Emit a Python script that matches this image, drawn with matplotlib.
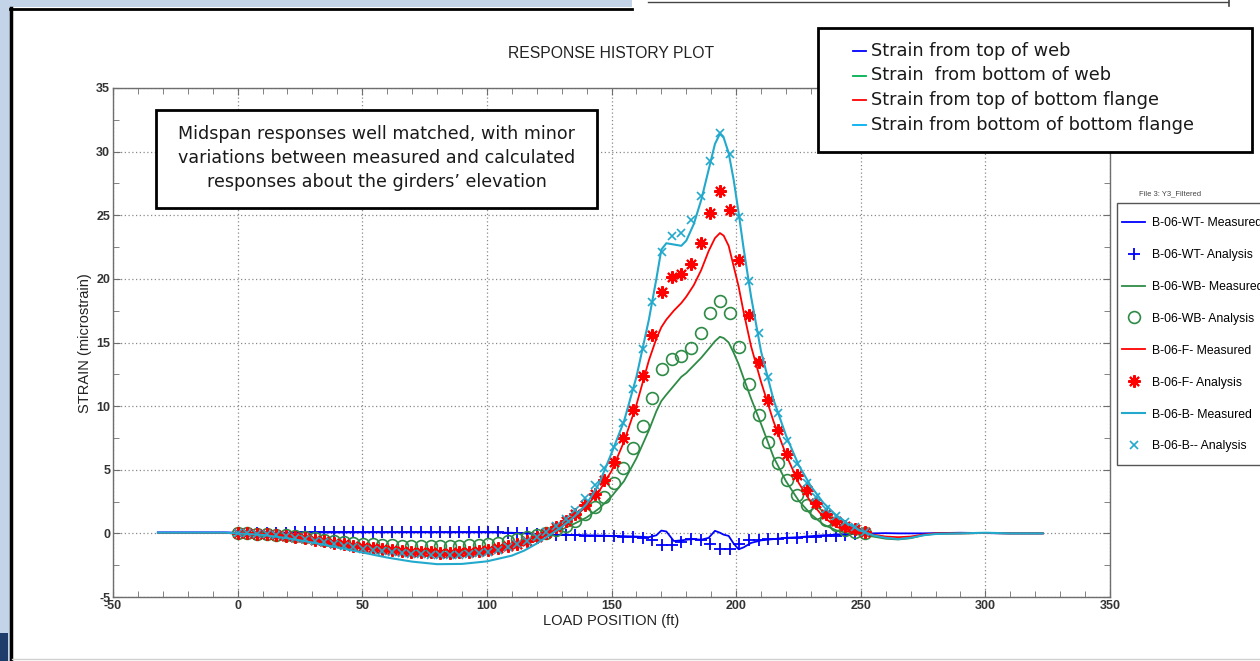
import numpy as np
import matplotlib
matplotlib.use('Agg')
import matplotlib.pyplot as plt
from matplotlib.lines import Line2D
from matplotlib.patches import Rectangle

plt.rcParams['axes.unicode_minus'] = False

# ---------------- data ----------------
x_analysis = [0.0, 3.9, 7.7, 11.6, 15.5, 19.4, 23.2, 27.1, 31.0, 34.8, 38.7, 42.6, 46.4,
              50.3, 54.2, 58.1, 61.9, 65.8, 69.7, 73.5, 77.4, 81.3, 85.1, 89.0, 92.9,
              96.8, 100.6, 104.5, 108.4, 112.2, 116.1, 120.0, 123.8, 127.7, 131.6, 135.5,
              139.3, 143.2, 147.1, 150.9, 154.8, 158.7, 162.5, 166.4, 170.3, 174.2, 178.0,
              181.9, 185.8, 189.6, 193.5, 197.4, 201.2, 205.1, 209.0, 212.9, 216.7, 220.6,
              224.5, 228.3, 232.2, 236.1, 239.9, 243.8, 247.7, 251.6]

wt_analysis = [0.0, 0.02, 0.03, 0.04, 0.05, 0.06, 0.07, 0.07, 0.08, 0.08, 0.08, 0.09, 0.09,
               0.09, 0.1, 0.1, 0.1, 0.1, 0.1, 0.1, 0.1, 0.1, 0.1, 0.1, 0.1, 0.1, 0.1,
               0.08, 0.06, 0.04, 0.02, -0.02, -0.08, -0.12, -0.15, -0.16, -0.17, -0.18,
               -0.2, -0.22, -0.25, -0.3, -0.38, -0.5, -0.95, -0.9, -0.65, -0.45, -0.55,
               -0.85, -1.2, -1.2, -0.8, -0.55, -0.5, -0.45, -0.42, -0.38, -0.34, -0.3,
               -0.26, -0.22, -0.18, -0.13, -0.08, -0.03]

wb_analysis = [0.0, 0.0, -0.02, -0.05, -0.1, -0.15, -0.22, -0.3, -0.4, -0.5, -0.58, -0.66,
               -0.74, -0.8, -0.86, -0.9, -0.94, -0.97, -1.0, -1.0, -1.0, -1.0, -1.0, -0.98,
               -0.95, -0.9, -0.82, -0.72, -0.6, -0.45, -0.3, -0.15, 0.05, 0.3, 0.6, 1.0,
               1.5, 2.05, 2.85, 3.95, 5.1, 6.7, 8.45, 10.6, 12.95, 13.7, 13.9, 14.6, 15.75,
               17.3, 18.3, 17.3, 14.65, 11.7, 9.3, 7.15, 5.5, 4.17, 3.05, 2.2, 1.58, 1.05,
               0.62, 0.29, 0.1, 0.0]

f_analysis = [0.0, 0.0, -0.03, -0.07, -0.12, -0.2, -0.3, -0.4, -0.5, -0.62, -0.75, -0.86,
              -0.97, -1.07, -1.16, -1.25, -1.32, -1.38, -1.43, -1.47, -1.5, -1.52, -1.52,
              -1.5, -1.46, -1.4, -1.3, -1.17, -1.0, -0.8, -0.57, -0.3, 0.05, 0.5, 1.0,
              1.55, 2.2, 3.1, 4.2, 5.6, 7.5, 9.67, 12.4, 15.6, 18.95, 20.15, 20.4, 21.2,
              22.8, 25.2, 26.9, 25.4, 21.46, 17.2, 13.5, 10.5, 8.1, 6.26, 4.6, 3.38, 2.38,
              1.55, 0.97, 0.6, 0.35, 0.1]

b_analysis = [0.0, 0.0, -0.04, -0.08, -0.14, -0.22, -0.33, -0.45, -0.57, -0.7, -0.83, -0.96,
              -1.08, -1.2, -1.3, -1.4, -1.48, -1.55, -1.6, -1.65, -1.68, -1.7, -1.7, -1.68,
              -1.63, -1.55, -1.45, -1.3, -1.1, -0.87, -0.6, -0.3, 0.08, 0.55, 1.15, 1.85,
              2.75, 3.8, 5.1, 6.8, 8.7, 11.35, 14.45, 18.2, 22.1, 23.4, 23.6, 24.6, 26.5,
              29.3, 31.5, 29.8, 24.9, 19.85, 15.75, 12.3, 9.45, 7.25, 5.45, 3.95, 2.85,
              1.95, 1.35, 0.88, 0.5, 0.1]

x_measured = [-32, -25, -15, -5, 0, 10, 20, 30, 40, 50, 60, 70, 80, 90, 100, 110, 115, 120,
              125, 130, 135, 140, 145, 150, 155, 160, 165, 168, 170, 172, 175, 178, 180,
              183, 186, 189, 191.5, 193.5, 195, 197, 199, 201, 203, 206, 210, 215, 220,
              225, 230, 235, 240, 245, 250, 255, 260, 265, 270, 275, 280, 290, 300, 310, 323]

wt_measured = [0.08, 0.08, 0.08, 0.08, 0.05, 0.05, 0.06, 0.07, 0.07, 0.08, 0.08, 0.08, 0.08,
               0.08, 0.08, 0.05, 0.0, -0.05, -0.1, -0.12, -0.13, -0.15, -0.17, -0.2, -0.22,
               -0.25, -0.3, -0.15, 0.22, 0.15, -0.6, -0.55, -0.5, -0.45, -0.5, -0.35, 0.2,
               0.05, -0.1, -0.2, -0.8, -1.25, -1.1, -0.75, -0.55, -0.45, -0.35, -0.3, -0.22,
               -0.15, -0.1, -0.05, 0.0, 0.0, 0.02, 0.0, 0.0, 0.0, 0.02, 0.05, 0.02, 0.0, 0.0]

wb_measured = [0.03, 0.03, 0.03, 0.03, 0.0, -0.08, -0.28, -0.52, -0.8, -1.08, -1.3, -1.45,
               -1.52, -1.48, -1.32, -1.0, -0.75, -0.4, 0.0, 0.3, 0.75, 1.25, 1.95, 2.9, 4.1,
               5.9, 8.1, 9.6, 10.4, 10.9, 11.6, 12.3, 12.6, 13.2, 13.8, 14.5, 15.1, 15.45,
               15.35, 15.0, 14.2, 13.3, 12.2, 10.6, 8.6, 6.0, 4.1, 2.6, 1.5, 0.7, 0.25, 0.0,
               -0.12, -0.25, -0.42, -0.48, -0.38, -0.15, -0.02, 0.0, 0.03, 0.0, 0.0]

f_measured = [0.03, 0.03, 0.03, 0.03, 0.0, -0.1, -0.32, -0.6, -0.9, -1.2, -1.45, -1.65,
              -1.75, -1.72, -1.55, -1.2, -0.9, -0.5, 0.05, 0.6, 1.25, 2.15, 3.3, 4.9, 7.2,
              10.1, 13.6, 15.3, 16.2, 16.8, 17.5, 18.1, 18.6, 19.5, 20.7, 22.2, 23.2, 23.6,
              23.4, 22.6, 21.0, 19.4, 17.4, 14.7, 11.9, 8.8, 6.2, 4.0, 2.45, 1.3, 0.55,
              0.15, 0.0, -0.1, -0.25, -0.3, -0.25, -0.1, 0.0, 0.0, 0.03, 0.0, 0.0]

b_measured = [0.05, 0.05, 0.05, 0.05, 0.0, -0.12, -0.38, -0.72, -1.1, -1.5, -1.9, -2.22,
              -2.42, -2.4, -2.2, -1.75, -1.35, -0.8, -0.15, 0.5, 1.3, 2.3, 3.9, 6.3, 8.8,
              12.3, 16.8, 20.0, 22.3, 22.8, 22.7, 22.6, 23.0, 24.3, 26.2, 28.6, 30.6, 31.4,
              31.1, 29.9, 27.8, 25.2, 22.4, 18.6, 14.3, 10.5, 7.7, 5.4, 3.7, 2.4, 1.45,
              0.75, 0.2, -0.15, -0.35, -0.45, -0.35, -0.15, -0.05, 0.0, 0.05, 0.0, 0.0]

legend_labels = ["B-06-WT- Measured", "B-06-WT- Analysis", "B-06-WB- Measured",
                 "B-06-WB- Analysis", "B-06-F- Measured", "B-06-F- Analysis",
                 "B-06-B- Measured", "B-06-B-- Analysis"]
note_labels = ["Strain from top of web", "Strain  from bottom of web",
               "Strain from top of bottom flange", "Strain from bottom of bottom flange"]
note_colors = ["#0000ff", "#00b050", "#ff0000", "#00b0f0"]
box_text = ("Midspan responses well matched, with minor\n"
            "variations between measured and calculated\n"
            "responses about the girders\u2019 elevation")

# ---------------- figure ----------------
W, H = 1260, 661
fig = plt.figure(figsize=(W / 100, H / 100), dpi=100)
fig.patch.set_facecolor('white')

def fx(px):
    return px / W

def fy(py):
    return 1 - py / H

# screenshot frame decorations
fig.add_artist(Rectangle((0, fy(661)), fx(10), 1, transform=fig.transFigure,
                         facecolor='#c3d3e8', edgecolor='none', zorder=0))
fig.add_artist(Rectangle((0, fy(7)), fx(632), 7 / H, transform=fig.transFigure,
                         facecolor='#c3d3e8', edgecolor='none', zorder=0))
fig.add_artist(Rectangle((0, 0), fx(8), 28 / H, transform=fig.transFigure,
                         facecolor='#1f3d6b', edgecolor='none', zorder=1))
fig.add_artist(Line2D([fx(11), fx(11)], [fy(8), 0], transform=fig.transFigure,
                      color='black', lw=2.5))
fig.add_artist(Line2D([fx(10), fx(632)], [fy(8.5), fy(8.5)], transform=fig.transFigure,
                      color='black', lw=2.0))
fig.add_artist(Line2D([fx(648), fx(1228)], [fy(2), fy(2)], transform=fig.transFigure,
                      color='#444444', lw=1.0))
fig.add_artist(Line2D([fx(1229), fx(1229)], [fy(0), fy(6)], transform=fig.transFigure,
                      color='#444444', lw=1.2))
fig.add_artist(Line2D([fx(12), 1], [fy(659), fy(659)], transform=fig.transFigure,
                      color='#d0d0d0', lw=1.0))

ax = fig.add_axes([fx(113), fy(597), (1110 - 113) / W, (597 - 88) / H])

c_blue, c_green, c_red, c_cyan = '#0000ff', '#2e8b46', '#ff0000', '#22a9cc'

h1, = ax.plot(x_measured, wt_measured, color=c_blue, lw=1.3)
h2, = ax.plot(x_analysis, wt_analysis, ls='none', marker='+', ms=8, mew=1.3, color=c_blue)
h3, = ax.plot(x_measured, wb_measured, color=c_green, lw=1.3)
h4, = ax.plot(x_analysis, wb_analysis, ls='none', marker='o', ms=8.5, mew=1.2,
              mfc='none', color=c_green)
h5, = ax.plot(x_measured, f_measured, color=c_red, lw=1.3)
h6, = ax.plot(x_analysis, f_analysis, ls='none', marker=(8, 2, 0), ms=9, mew=1.5, color=c_red)
h7, = ax.plot(x_measured, b_measured, color=c_cyan, lw=1.5)
h8, = ax.plot(x_analysis, b_analysis, ls='none', marker='x', ms=6, mew=1.2, color=c_cyan)

ax.set_xlim(-50, 350)
ax.set_ylim(-5, 35)
ax.set_xticks(np.arange(-50, 351, 50))
ax.set_yticks(np.arange(-5, 36, 5))
ax.set_xticks(np.arange(-50, 351, 10), minor=True)
ax.set_yticks(np.arange(-5, 36, 2.5), minor=True)
ax.grid(True, which='major', ls=(0, (1, 2)), color='#8a8a8a', lw=0.9)
for s in ax.spines.values():
    s.set_color('#6e6e6e')
    s.set_linewidth(1.0)
ax.tick_params(which='both', direction='in', top=True, right=True, colors='#6e6e6e',
               labelcolor='#333333', labelsize=9)
ax.tick_params(which='major', length=5)
ax.tick_params(which='minor', length=4)
for lab in ax.get_xticklabels() + ax.get_yticklabels():
    lab.set_family('Liberation Sans')
    lab.set_fontweight('bold')
ax.tick_params(axis='x', pad=2)
ax.tick_params(axis='y', pad=2)

fig.text(fx(611), fy(54), "RESPONSE HISTORY PLOT", ha='center', va='center',
         family='Liberation Sans', fontsize=11.3, color='#222222')
fig.text(fx(611), fy(621), "LOAD POSITION (ft)", ha='center', va='center',
         family='Liberation Sans', fontsize=10.5, color='#222222')
fig.text(fx(85), fy(343), "STRAIN (microstrain)", ha='center', va='center', rotation=90,
         family='Liberation Sans', fontsize=10.5, color='#222222')

# MATLAB style legend on the right (frame drawn separately)
fig.add_artist(Rectangle((fx(1117), fy(465)), (1270 - 1117) / W, (465 - 203) / H,
                         transform=fig.transFigure, facecolor='white', edgecolor='#555555',
                         lw=1.0, zorder=4))
fig.text(fx(1170), fy(194), "File 3: Y3_Filtered", ha='center', va='center',
         family='Liberation Sans', fontsize=5.5, color='#444444')
leg = fig.legend([h1, h2, h3, h4, h5, h6, h7, h8], legend_labels, loc='upper left',
                 bbox_to_anchor=(fx(1122), fy(217)), frameon=False,
                 prop={'family': 'Liberation Sans', 'size': 8.8}, labelspacing=1.63,
                 handlelength=1.9, handletextpad=0.55, borderpad=0, borderaxespad=0)
leg.set_zorder(6)

# Midspan note box
fig.add_artist(Rectangle((fx(156), fy(208)), (597 - 156) / W, (208 - 110) / H,
                         transform=fig.transFigure, facecolor='white', edgecolor='black',
                         lw=2.0, zorder=5))
fig.text(fx(377), fy(158), box_text, ha='center', va='center', fontsize=12.6,
         family='DejaVu Sans', color='#1a1a1a', linespacing=1.4, zorder=6)

# upper right note legend
fig.add_artist(Rectangle((fx(818), fy(152)), (1252 - 818) / W, (152 - 28) / H,
                         transform=fig.transFigure, facecolor='white', edgecolor='black',
                         lw=2.0, zorder=5))
for i, (lab, col) in enumerate(zip(note_labels, note_colors)):
    yy = 51 + i * 24.5
    fig.add_artist(Line2D([fx(853), fx(866)], [fy(yy), fy(yy)], transform=fig.transFigure,
                          color=col, lw=1.3, zorder=6))
    fig.text(fx(871), fy(yy), lab, ha='left', va='center', fontsize=12.8,
             family='DejaVu Sans', color='#1a1a1a', zorder=6)

fig.savefig('out.png', dpi=100)
